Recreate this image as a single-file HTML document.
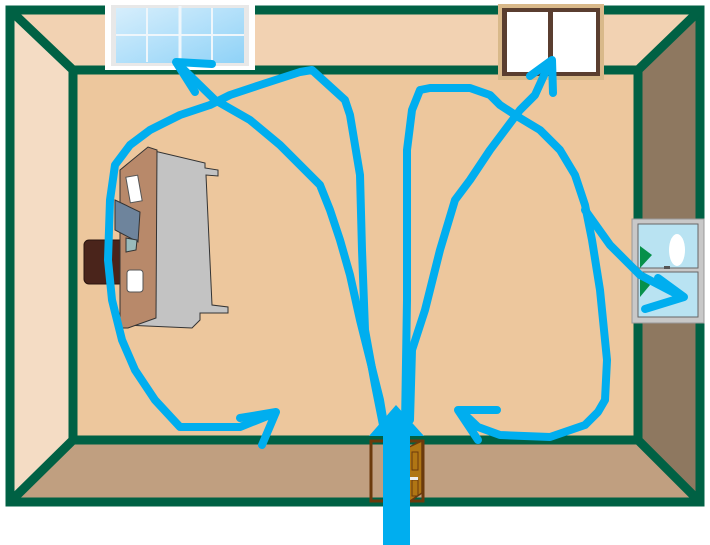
<!DOCTYPE html>
<html><head><meta charset="utf-8"><style>html,body{margin:0;padding:0;background:#fff}svg{display:block}</style></head>
<body>
<svg width="710" height="545" viewBox="0 0 710 545" xmlns="http://www.w3.org/2000/svg">
<defs><linearGradient id="gl" x1="0" y1="0" x2="1" y2="1"><stop offset="0" stop-color="#d6eefc"/><stop offset="1" stop-color="#8fd2f7"/></linearGradient></defs>
<!-- walls -->
<polygon points="10,10 700,10 638,70 73,70" fill="#f2d2b2"/>
<polygon points="10,10 73,70 73,440 10,502" fill="#f4dcc4"/>
<polygon points="700,10 700,502 638,440 638,70" fill="#8e7860"/>
<polygon points="10,502 73,440 638,440 700,502" fill="#c09f80"/>
<rect x="73" y="70" width="565" height="370" fill="#edc79d"/>
<g stroke="#006144" stroke-width="9" fill="none">
<rect x="10" y="10" width="690" height="492"/>
<rect x="73" y="70" width="565" height="370"/>
<line x1="10" y1="10" x2="73" y2="70"/><line x1="700" y1="10" x2="638" y2="70"/>
<line x1="10" y1="502" x2="73" y2="440"/><line x1="700" y1="502" x2="638" y2="440"/>
</g>
<!-- top left window -->
<rect x="105" y="3" width="150" height="67" fill="#fff"/>
<rect x="111" y="5" width="138" height="61" fill="#e8e8e8"/>
<rect x="116" y="8" width="128" height="55" fill="url(#gl)"/>
<g stroke="#eef6fb" stroke-width="2"><line x1="147" y1="8" x2="147" y2="62"/><line x1="180" y1="6" x2="180" y2="64" stroke-width="3"/><line x1="212" y1="8" x2="212" y2="62"/><line x1="116" y1="35" x2="244" y2="35"/></g>
<!-- top right window -->
<rect x="498" y="4" width="106" height="76" fill="#d9b98a"/>
<rect x="502" y="8" width="98" height="68" fill="#5a3e30"/>
<rect x="507" y="12" width="41" height="60" fill="#fff"/><rect x="553" y="12" width="43" height="60" fill="#fff"/>
<!-- right window -->
<rect x="632" y="219" width="72" height="104" fill="#c8c8c8" stroke="#999"/>
<rect x="638" y="224" width="60" height="44" fill="#b9e3f2" stroke="#666"/>
<rect x="638" y="272" width="60" height="45" fill="#b9e3f2" stroke="#666"/>
<polygon points="640,246 652,255 640,268" fill="#06904a"/><polygon points="640,274 650,285 640,297" fill="#06904a"/>
<ellipse cx="677" cy="250" rx="8" ry="16" fill="#fff"/>
<rect x="664" y="266" width="6" height="3" fill="#555"/>
<!-- chair -->
<rect x="84" y="240" width="40" height="44" rx="5" fill="#4a241b" stroke="#2a140f"/>
<!-- desk -->
<polygon points="150,150 205,163 205,168 218,170 218,176 206,175 212,305 228,307 228,313 200,313 200,320 192,328 125,325" fill="#c3c3c3" stroke="#333" stroke-width="1"/>
<polygon points="120,170 148,147 157,150 156,318 128,328 120,328" fill="#b8896a" stroke="#333" stroke-width="1"/>
<rect x="128" y="176" width="12" height="26" fill="#fff" stroke="#555" transform="rotate(-10 134 189)"/>
<polygon points="115,200 140,212 138,242 115,230" fill="#6e849c" stroke="#333"/>
<polygon points="126,238 137,240 136,250 126,252" fill="#9bb" stroke="#333"/>
<rect x="127" y="270" width="16" height="22" rx="3" fill="#fff" stroke="#555"/>
<!-- door -->
<rect x="371" y="441" width="52" height="60" fill="none" stroke="#6b3a0c" stroke-width="3"/>
<polygon points="407,448 422,441 422,493 407,503" fill="#b07614" stroke="#6b3a0c" stroke-width="1.5"/>
<rect x="412" y="452" width="6" height="18" fill="none" stroke="#6b3a0c"/><rect x="412" y="480" width="6" height="16" fill="none" stroke="#6b3a0c"/>
<rect x="410" y="477" width="8" height="3" fill="#eee"/>
<!-- airflow lines -->
<g stroke="#00aeef" stroke-width="8" fill="none" stroke-linecap="round" stroke-linejoin="round">
<path d="M383,425 L375,385 L365,330 L362,250 L360,175 L355,145 L350,115 L345,100 L312,70 L300,72 L260,85 L230,95 L210,105 L180,115 L150,130 L130,145 L115,165 L110,200 L108,260 L112,300 L122,340 L135,370 L155,400 L180,427 L240,427 L275,413"/>
<path d="M240,418 L276,412 L262,445"/>
<path d="M385,430 L380,400 L370,360 L360,320 L350,275 L340,240 L330,210 L320,185 L300,165 L280,145 L250,120 L215,100 L178,64"/>
<path d="M212,64 L176,62 L195,92"/>
<path d="M405,425 L407,300 L407,150 L412,110 L420,90 L430,88 L470,88 L490,95 L500,105 L520,118 L540,130 L560,150 L575,175 L585,205 L592,240 L600,290 L607,360 L605,400 L598,412 L585,425 L550,437 L500,435 L478,427 L460,410"/>
<path d="M497,410 L458,410 L478,440"/>
<path d="M410,420 L412,350 L425,310 L440,250 L455,200 L470,180 L490,150 L505,130 L520,110 L535,95 L550,62"/>
<path d="M530,76 L552,60 L553,93"/>
<path d="M585,210 L610,245 L640,275 L682,297"/>
<path d="M658,278 L684,297 L645,309"/>
</g>
<rect x="383" y="430" width="27" height="115" fill="#00aeef"/>
<polygon points="369,436 396,405 424,436" fill="#00aeef"/>
</svg>
</body></html>
